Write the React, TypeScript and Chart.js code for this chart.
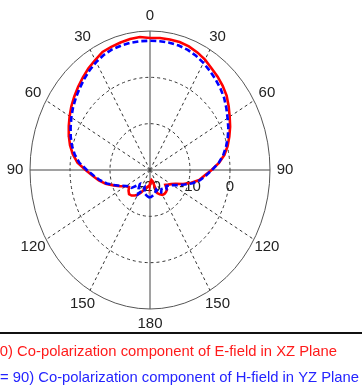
import React, { useEffect, useRef } from 'react';
import { Chart, registerables } from 'chart.js';

Chart.register(...registerables);

// Polar angles (deg, clockwise from top)
const ANGLES = [
  -180, -175, -170, -165, -160, -155, -150, -145, -140, -135, -130, -125, -120,
  -115, -110, -105, -100, -95, -90, -85, -80, -75, -70, -65, -60, -55, -50, -45,
  -40, -35, -30, -25, -20, -15, -10, -5, 0, 5, 10, 15, 20, 25, 30, 35, 40, 45, 50,
  55, 60, 65, 70, 75, 80, 85, 90, 95, 100, 105, 110, 115, 120, 125, 130, 135, 140,
  145, 150, 155, 160, 165, 170, 175, 180,
];

// Phi = 0, E-field XZ plane (dB)
const RED_DB = [
  -16.8, -16.6, -16.3, -16.0, -15.4, -14.6, -13.8, -13.3, -12.8, -12.6, -13.0, -13.6, -13.0,
  -11.7, -10.3, -8.5, -7.0, -5.6, -3.9, -1.8, -0.4, 0.7, 1.6, 2.4, 3.2, 4.0, 4.7, 5.4,
  6.1, 6.8, 7.4, 8.1, 8.3, 8.5, 8.7, 8.8, 8.5, 8.6, 8.6, 8.6, 8.4, 8.0, 7.5, 6.8, 6.3, 5.7, 5.0,
  4.0, 3.0, 2.1, 1.1, 0.1, -1.1, -2.7, -4.6, -6.3, -7.5, -9.3, -11.2, -12.9, -13.9, -14.5, -15.0, -14.0, -13.8,
  -13.7, -13.8, -14.2, -14.7, -17.5, -17.8, -17.5, -16.8,
];

// Phi = 90, H-field YZ plane (dB)
const BLUE_DB = [
  -14.0, -14.2, -14.5, -14.8, -16.0, -15.0, -14.0, -15.0, -16.0, -15.2, -14.0, -13.8, -13.1,
  -11.9, -10.5, -8.8, -7.3, -5.9, -4.2, -2.3, -0.9, 0.2, 1.1, 1.9, 2.7, 3.5, 4.2, 4.9,
  5.6, 6.3, 6.9, 7.4, 7.7, 7.8, 7.9, 7.9, 7.9, 7.9, 7.9, 7.8, 7.6, 7.2, 6.7, 6.1, 5.5, 4.9, 4.2,
  3.3, 2.4, 1.6, 0.7, -0.3, -1.4, -2.8, -4.5, -6.0, -7.3, -9.0, -10.8, -12.3, -13.5, -14.2, -14.6, -14.2, -14.8,
  -15.0, -14.4, -14.5, -15.5, -15.0, -14.6, -14.3, -14.0,
];

const RADIAL_MIN = -20;
const RADIAL_MAX = 10;
const RING_VALUES = [-10, 0];
const RING_LABEL_VALUES = [-20, -10, 0];
const RING_LABELS = ['-20', '-10', '0'];
const SPOKE_ANGLES = [30, 60, 120, 150, 210, 240, 300, 330];
const ANGLE_TICKS = [0, 30, 60, 90, 120, 150, 180, 210, 240, 270, 300, 330];
const ANGLE_LABELS = ['0', '30', '60', '90', '120', '150', '180', '150', '120', '90', '60', '30'];
const LEGEND_RED = '(Phi=0) Co-polarization component of E-field in XZ Plane';
const LEGEND_BLUE = '(Phi = 90) Co-polarization component of H-field in YZ Plane';

const SPAN = RADIAL_MAX - RADIAL_MIN;

function toXY(values: number[]) {
  return values.map((v, i) => {
    const r = Math.max(0, v - RADIAL_MIN);
    const t = (ANGLES[i] * Math.PI) / 180;
    return { x: r * Math.sin(t), y: r * Math.cos(t) };
  });
}

const polarGrid = {
  id: 'polarGrid',
  beforeDatasetsDraw(chart: any) {
    const ctx = chart.ctx as CanvasRenderingContext2D;
    const xs = chart.scales.x;
    const ys = chart.scales.y;
    const cx = xs.getPixelForValue(0);
    const cy = ys.getPixelForValue(0);
    const rx = (r: number) => xs.getPixelForValue(r) - cx;
    const ry = (r: number) => cy - ys.getPixelForValue(r);
    ctx.save();
    // dashed rings
    ctx.strokeStyle = '#333';
    ctx.lineWidth = 1;
    ctx.setLineDash([3, 3]);
    RING_VALUES.forEach((v) => {
      const r = v - RADIAL_MIN;
      ctx.beginPath();
      ctx.ellipse(cx, cy, rx(r), ry(r), 0, 0, Math.PI * 2);
      ctx.stroke();
    });
    // dashed spokes
    SPOKE_ANGLES.forEach((a) => {
      const t = (a * Math.PI) / 180;
      ctx.beginPath();
      ctx.moveTo(cx, cy);
      ctx.lineTo(cx + rx(SPAN) * Math.sin(t), cy - ry(SPAN) * Math.cos(t));
      ctx.stroke();
    });
    ctx.setLineDash([]);
    // solid axes
    ctx.strokeStyle = '#444';
    ctx.beginPath();
    ctx.moveTo(cx, cy - ry(SPAN));
    ctx.lineTo(cx, cy + ry(SPAN));
    ctx.moveTo(cx - rx(SPAN), cy);
    ctx.lineTo(cx + rx(SPAN), cy);
    ctx.stroke();
    // outer ring
    ctx.strokeStyle = '#555';
    ctx.beginPath();
    ctx.ellipse(cx, cy, rx(SPAN), ry(SPAN), 0, 0, Math.PI * 2);
    ctx.stroke();
    // radial labels
    ctx.fillStyle = '#222';
    ctx.font = '15px "Liberation Sans", Arial, sans-serif';
    ctx.textAlign = 'center';
    ctx.textBaseline = 'middle';
    RING_LABEL_VALUES.forEach((v, i) => {
      ctx.fillText(RING_LABELS[i], cx + rx(v - RADIAL_MIN), cy + 17);
    });
    // angle labels
    ANGLE_TICKS.forEach((a, i) => {
      const t = (a * Math.PI) / 180;
      const lx = cx + (rx(SPAN) + 15) * Math.sin(t);
      const ly = cy - (ry(SPAN) + 15) * Math.cos(t);
      ctx.fillText(ANGLE_LABELS[i], lx, ly);
    });
    ctx.restore();
  },
  afterDraw(chart: any) {
    const ctx = chart.ctx as CanvasRenderingContext2D;
    ctx.save();
    ctx.fillStyle = '#111';
    ctx.fillRect(0, 332, chart.width, 2);
    ctx.font = '14.8px "Liberation Sans", Arial, sans-serif';
    ctx.textAlign = 'right';
    ctx.textBaseline = 'alphabetic';
    ctx.fillStyle = '#ff1a1a';
    ctx.fillText(LEGEND_RED, 337, 356);
    ctx.fillStyle = '#2424ff';
    ctx.fillText(LEGEND_BLUE, 359, 382);
    ctx.restore();
  },
};

export default function App() {
  const ref = useRef<HTMLCanvasElement | null>(null);
  useEffect(() => {
    if (!ref.current) return;
    const chart = new Chart(ref.current, {
      type: 'scatter',
      data: {
        datasets: [
          {
            label: 'E-field XZ',
            data: toXY(RED_DB),
            borderColor: '#ff0000',
            backgroundColor: '#ff0000',
            borderWidth: 2.6,
            showLine: true,
            pointRadius: 0,
            tension: 0,
            order: 1,
          },
          {
            label: 'H-field YZ',
            data: toXY(BLUE_DB),
            borderColor: '#0000ff',
            backgroundColor: '#0000ff',
            borderWidth: 2.6,
            borderDash: [6, 3],
            showLine: true,
            pointRadius: 0,
            tension: 0,
            order: 0,
          },
        ],
      },
      options: {
        responsive: false,
        animation: false,
        devicePixelRatio: 1,
        layout: { padding: { left: 30, right: 92, top: 31, bottom: 83 } },
        scales: {
          x: { type: 'linear', min: -SPAN, max: SPAN, display: false },
          y: { type: 'linear', min: -SPAN, max: SPAN, display: false },
        },
        plugins: { legend: { display: false }, tooltip: { enabled: false } },
      },
      plugins: [polarGrid],
    });
    return () => chart.destroy();
  }, []);
  return (
    <canvas
      ref={ref}
      width={362}
      height={392}
      style={{ position: 'absolute', left: 0, top: 0, width: 362, height: 392, background: '#fff' }}
    />
  );
}
